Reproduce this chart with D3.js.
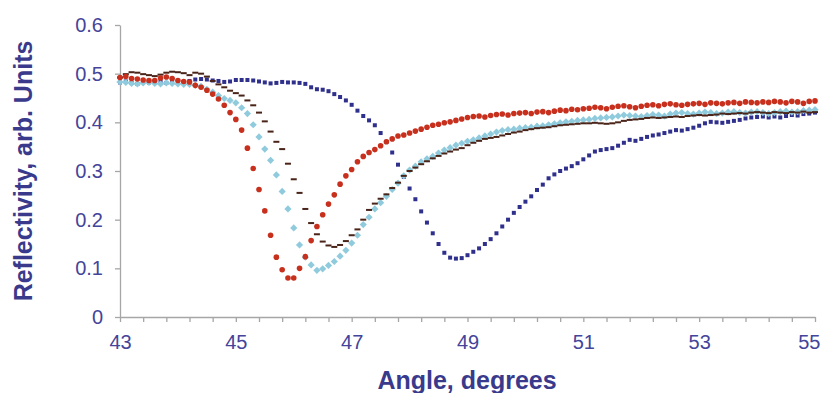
<!DOCTYPE html>
<html><head><meta charset="utf-8">
<script src="https://cdn.jsdelivr.net/npm/d3@7"></script>
<style>html,body{margin:0;padding:0;background:#fff;}svg{display:block;font-family:"Liberation Sans",Arial,sans-serif;}</style>
</head><body>
<svg id="chart" width="822" height="393"></svg>
<script>
const angles = [43.0,43.1,43.2,43.3,43.4,43.5,43.6,43.7,43.8,43.9,
44.0,44.1,44.2,44.3,44.4,44.5,44.6,44.7,44.8,44.9,
45.0,45.1,45.2,45.3,45.4,45.5,45.6,45.7,45.8,45.9,
46.0,46.1,46.2,46.3,46.4,46.5,46.6,46.7,46.8,46.9,
47.0,47.1,47.2,47.3,47.4,47.5,47.6,47.7,47.8,47.9,
48.0,48.1,48.2,48.3,48.4,48.5,48.6,48.7,48.8,48.9,
49.0,49.1,49.2,49.3,49.4,49.5,49.6,49.7,49.8,49.9,
50.0,50.1,50.2,50.3,50.4,50.5,50.6,50.7,50.8,50.9,
51.0,51.1,51.2,51.3,51.4,51.5,51.6,51.7,51.8,51.9,
52.0,52.1,52.2,52.3,52.4,52.5,52.6,52.7,52.8,52.9,
53.0,53.1,53.2,53.3,53.4,53.5,53.6,53.7,53.8,53.9,
54.0,54.1,54.2,54.3,54.4,54.5,54.6,54.7,54.8,54.9,
55.0];

const navySeries = [0.482,0.484,0.481,0.479,0.483,0.482,0.484,0.483,0.481,0.483,
0.484,0.482,0.485,0.488,0.489,0.488,0.486,0.485,0.483,0.484,
0.487,0.487,0.487,0.486,0.484,0.482,0.480,0.481,0.483,0.482,
0.482,0.481,0.479,0.472,0.468,0.467,0.464,0.458,0.452,0.445,
0.436,0.424,0.413,0.404,0.394,0.378,0.360,0.338,0.313,0.288,
0.264,0.242,0.217,0.194,0.172,0.150,0.132,0.122,0.120,0.121,
0.127,0.134,0.141,0.150,0.160,0.172,0.186,0.200,0.214,0.226,
0.237,0.248,0.261,0.272,0.285,0.293,0.300,0.305,0.310,0.316,
0.324,0.332,0.340,0.343,0.345,0.347,0.352,0.358,0.364,0.362,
0.366,0.370,0.373,0.375,0.378,0.381,0.384,0.383,0.386,0.389,
0.393,0.398,0.401,0.400,0.399,0.401,0.403,0.405,0.408,0.410,
0.411,0.412,0.410,0.412,0.410,0.413,0.415,0.414,0.417,0.418,
0.420];

const redSeries = [0.492,0.494,0.490,0.489,0.487,0.486,0.486,0.491,0.493,0.490,
0.486,0.484,0.483,0.476,0.472,0.466,0.458,0.448,0.435,0.420,
0.406,0.384,0.347,0.305,0.262,0.218,0.168,0.123,0.097,0.080,
0.080,0.100,0.124,0.157,0.186,0.210,0.232,0.251,0.273,0.290,
0.303,0.319,0.330,0.338,0.344,0.352,0.360,0.366,0.372,0.374,
0.378,0.382,0.386,0.390,0.394,0.396,0.399,0.401,0.404,0.407,
0.410,0.412,0.413,0.411,0.414,0.416,0.417,0.415,0.418,0.419,
0.420,0.418,0.421,0.422,0.420,0.423,0.425,0.424,0.427,0.426,
0.428,0.429,0.431,0.430,0.428,0.431,0.433,0.434,0.432,0.430,
0.433,0.435,0.436,0.434,0.437,0.438,0.436,0.435,0.437,0.438,
0.439,0.437,0.440,0.439,0.438,0.440,0.441,0.439,0.442,0.441,
0.440,0.442,0.441,0.443,0.442,0.440,0.443,0.442,0.439,0.443,
0.444];

const lightBlueSeries = [0.483,0.482,0.480,0.479,0.481,0.482,0.480,0.479,0.481,0.480,
0.479,0.478,0.478,0.476,0.474,0.468,0.462,0.455,0.449,0.445,
0.440,0.430,0.418,0.395,0.370,0.345,0.322,0.292,0.258,0.222,
0.183,0.148,0.123,0.107,0.096,0.099,0.106,0.114,0.125,0.137,
0.152,0.168,0.190,0.205,0.222,0.235,0.248,0.262,0.275,0.290,
0.302,0.310,0.319,0.325,0.330,0.337,0.343,0.348,0.353,0.357,
0.361,0.364,0.368,0.372,0.376,0.380,0.383,0.385,0.386,0.388,
0.389,0.390,0.392,0.393,0.395,0.397,0.399,0.401,0.402,0.404,
0.405,0.406,0.408,0.409,0.410,0.411,0.413,0.415,0.414,0.413,
0.412,0.414,0.416,0.415,0.413,0.417,0.419,0.420,0.418,0.417,
0.419,0.421,0.420,0.418,0.419,0.421,0.422,0.420,0.419,0.421,
0.422,0.420,0.418,0.420,0.422,0.423,0.421,0.422,0.424,0.425,
0.426];

const dashSeries = [0.492,0.499,0.503,0.502,0.499,0.497,0.495,0.498,0.502,0.504,
0.503,0.501,0.497,0.502,0.500,0.494,0.485,0.478,0.472,0.465,
0.460,0.455,0.445,0.435,0.420,0.402,0.381,0.360,0.345,0.315,
0.283,0.255,0.222,0.193,0.170,0.155,0.147,0.144,0.148,0.156,
0.168,0.180,0.200,0.220,0.233,0.243,0.252,0.265,0.276,0.290,
0.300,0.307,0.314,0.320,0.326,0.331,0.336,0.340,0.344,0.347,
0.353,0.358,0.362,0.366,0.368,0.370,0.373,0.376,0.379,0.381,
0.384,0.386,0.388,0.389,0.390,0.392,0.394,0.395,0.396,0.397,
0.398,0.398,0.399,0.398,0.397,0.398,0.400,0.403,0.405,0.406,
0.407,0.409,0.410,0.409,0.410,0.411,0.412,0.411,0.413,0.414,
0.415,0.414,0.415,0.416,0.418,0.417,0.418,0.419,0.418,0.420,
0.421,0.420,0.419,0.421,0.420,0.419,0.421,0.420,0.422,0.420,
0.421];

const yTicks = [0, 0.1, 0.2, 0.3, 0.4, 0.5, 0.6];
const xLabelTicks = [43, 45, 47, 49, 51, 53, 55];
const xMinorStep = 0.4;
const xTitle = "Angle, degrees";
const yTitle = "Reflectivity, arb. Units";

const W = 822;
const svg = d3.select("#chart");
const x = d3.scaleLinear().domain([43, 55]).range([120, 815]);
const y = d3.scaleLinear().domain([0, 0.6]).range([317, 25]);

const axisColor = "#a6a6a6";
const labelColor = "#44449a";
const titleColor = "#3a3a8c";

// Y axis
const yAxis = svg.append("g").attr("transform", "translate(120,0)")
  .call(d3.axisLeft(y).tickValues(yTicks).tickSize(5).tickSizeOuter(0).tickPadding(12)
    .tickFormat(d => d === 0 ? "0" : d3.format(".1f")(d)));
yAxis.select(".domain").attr("stroke", axisColor).attr("stroke-width", 1.3);
yAxis.selectAll(".tick line").attr("stroke", axisColor).attr("stroke-width", 1.3);
yAxis.selectAll(".tick text").attr("fill", labelColor).style("font-size", "20px");

// X axis
const minorTicks = d3.range(43, 55.0001, xMinorStep).map(v => Math.round(v * 10) / 10);
const xAxis = svg.append("g").attr("transform", "translate(0,317)")
  .call(d3.axisBottom(x).tickValues(minorTicks).tickSize(5).tickSizeOuter(0).tickPadding(13)
    .tickFormat(d => xLabelTicks.includes(d) ? String(d) : ""));
xAxis.select(".domain").attr("stroke", axisColor).attr("stroke-width", 1.3);
xAxis.selectAll(".tick line").attr("stroke", axisColor).attr("stroke-width", 1.3);
xAxis.selectAll(".tick text").attr("fill", labelColor).style("font-size", "20px");
// keep the last label inside the picture
xAxis.selectAll(".tick text").each(function(d) {
  const bb = this.getBBox();
  const right = x(d) + bb.width / 2;
  if (right > W - 2) d3.select(this).attr("x", (W - 2) - right);
});

// Titles
svg.append("text").attr("x", 467).attr("y", 389).attr("text-anchor", "middle")
  .attr("fill", titleColor).style("font-size", "25px").style("font-weight", "bold").text(xTitle);
svg.append("text").attr("transform", "translate(32,171) rotate(-90)").attr("text-anchor", "middle")
  .attr("fill", titleColor).style("font-size", "25px").style("font-weight", "bold").text(yTitle);

const plot = svg.append("g");

// Navy squares
plot.selectAll("rect.navy").data(angles.map((a, i) => [a, navySeries[i]])).join("rect")
  .attr("class", "navy").attr("x", d => x(d[0]) - 2).attr("y", d => y(d[1]) - 2)
  .attr("width", 4).attr("height", 4).attr("fill", "#2f2f8c");

// Light blue diamonds (rotated squares)
plot.selectAll("path.lb").data(angles.map((a, i) => [a, lightBlueSeries[i]])).join("path")
  .attr("class", "lb").attr("d", d3.symbol(d3.symbolSquare, 26)())
  .attr("transform", d => `translate(${x(d[0])},${y(d[1])}) rotate(45)`).attr("fill", "#8fcbdd");

// Dark dashes
plot.selectAll("rect.dash").data(angles.map((a, i) => [a, dashSeries[i]])).join("rect")
  .attr("class", "dash").attr("x", d => x(d[0]) - 3).attr("y", d => y(d[1]) - 1)
  .attr("width", 6).attr("height", 2).attr("fill", "#4a2419");

// Red circles
plot.selectAll("circle.red").data(angles.map((a, i) => [a, redSeries[i]])).join("circle")
  .attr("class", "red").attr("cx", d => x(d[0])).attr("cy", d => y(d[1])).attr("r", 2.8)
  .attr("fill", "#c8301e");
</script>
</body></html>
